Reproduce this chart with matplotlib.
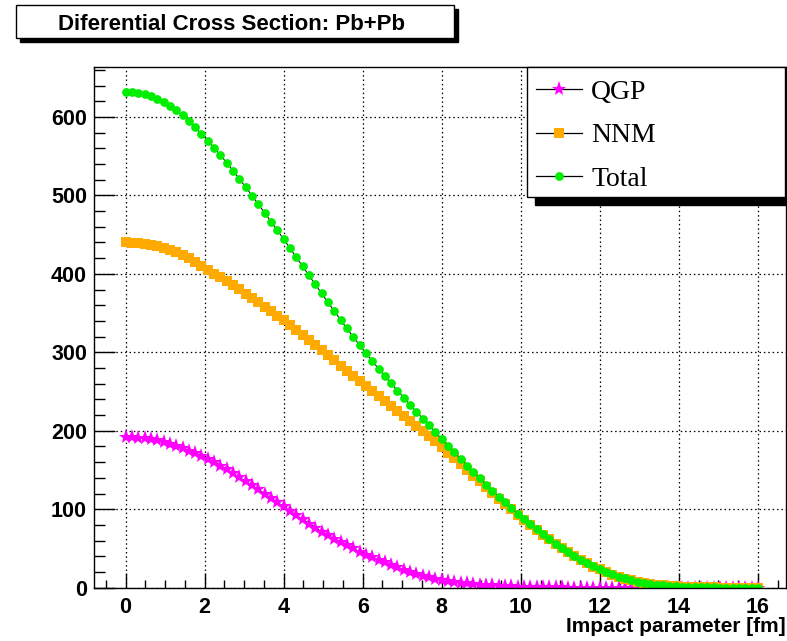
import numpy as np
import matplotlib
matplotlib.use("Agg")
import matplotlib.pyplot as plt
from matplotlib.patches import Rectangle
from matplotlib.lines import Line2D
from matplotlib.ticker import MultipleLocator

# impact parameter grid [fm], 101 points, step 0.16
b = np.round(np.arange(101) * 0.16, 2)

qgp = [192.0, 191.8, 191.2, 190.6, 189.5, 187.8, 185.6, 183.3, 180.7, 177.8,
       174.8, 171.6, 168.2, 164.5, 160.3, 155.7, 150.8, 145.8, 140.8, 135.7,
       130.5, 125.2, 119.8, 114.4, 109.0, 103.5, 98.0, 92.5, 87.1, 81.8,
       76.6, 71.5, 66.8, 62.4, 58.2, 54.0, 50.0, 46.0, 42.3, 38.8,
       35.5, 32.3, 29.1, 26.0, 23.0, 20.2, 17.6, 15.3, 13.3, 11.5,
       10.0, 8.7, 7.6, 6.5, 5.6, 4.8, 4.0, 3.4, 2.9, 2.4,
       2.0, 1.7, 1.4, 1.1, 0.9, 0.7, 0.6, 0.5, 0.4, 0.3,
       0.25, 0.2, 0.15, 0.1, 0.1, 0.1, 0.1, 0.1, 0.1, 0.1,
       0.1, 0.05, 0.05, 0.05, 0.05, 0.05, 0.05, 0.05, 0.05, 0.05,
       0.05, 0.0, 0.0, 0.0, 0.0, 0.0, 0.0, 0.0, 0.0, 0.0, 0.0]

nnm = [440.0, 439.9, 439.4, 438.2, 436.8, 435.2, 433.3, 430.7, 427.6, 424.0,
       419.7, 415.0, 410.2, 405.3, 400.4, 395.5, 390.6, 385.5, 380.2, 374.7,
       369.1, 363.5, 357.9, 352.2, 346.4, 340.6, 334.7, 328.5, 322.4, 316.2,
       309.9, 303.5, 296.8, 290.0, 283.1, 276.4, 269.7, 263.2, 256.7, 250.2,
       243.8, 237.5, 231.4, 225.3, 219.2, 213.0, 206.7, 200.2, 193.5, 186.6,
       179.5, 172.2, 164.8, 157.5, 150.1, 142.7, 135.4, 128.0, 120.7, 113.6,
       106.6, 99.7, 93.0, 86.6, 80.1, 73.7, 67.5, 61.5, 55.8, 50.3,
       45.0, 40.1, 35.4, 31.1, 27.0, 23.2, 19.8, 16.8, 14.1, 11.7,
       9.6, 7.9, 6.4, 5.0, 4.0, 3.1, 2.3, 1.8, 1.3, 0.9,
       0.7, 0.6, 0.4, 0.3, 0.2, 0.2, 0.1, 0.1, 0.1, 0.1, 0.0]

total = [632.0, 631.7, 630.6, 628.8, 626.3, 623.0, 618.9, 614.0, 608.3, 601.8,
         594.5, 586.6, 578.4, 569.8, 560.7, 551.2, 541.4, 531.3, 521.0, 510.4,
         499.6, 488.7, 477.7, 466.6, 455.4, 444.1, 432.7, 421.0, 409.5, 398.0,
         386.5, 375.0, 363.6, 352.4, 341.3, 330.4, 319.7, 309.2, 299.0, 289.0,
         279.3, 269.8, 260.5, 251.3, 242.2, 233.2, 224.3, 215.5, 206.8, 198.1,
         189.5, 180.9, 172.4, 164.0, 155.7, 147.5, 139.4, 131.4, 123.6, 116.0,
         108.6, 101.4, 94.4, 87.7, 81.0, 74.4, 68.1, 62.0, 56.2, 50.6,
         45.3, 40.3, 35.6, 31.2, 27.1, 23.3, 19.9, 16.9, 14.2, 11.8,
         9.7, 7.9, 6.4, 5.1, 4.0, 3.1, 2.4, 1.8, 1.4, 1.0,
         0.8, 0.6, 0.4, 0.3, 0.2, 0.2, 0.1, 0.1, 0.1, 0.1, 0.0]

labels = ["QGP", "NNM", "Total"]
title = "Diferential Cross Section: Pb+Pb"
xlabel = "Impact parameter [fm]"

W, H = 787, 641
styles = [
    dict(marker="*", ms=11, mfc="#ff00ff", mec="#ff00ff", mew=0),
    dict(marker="s", ms=7.4, mfc="#ffaa00", mec="#ffaa00", mew=0),
    dict(marker="o", ms=6.3, mfc="#00ee00", mec="#00ee00", mew=0),
]

fig = plt.figure(figsize=(W / 100, H / 100), dpi=100)
fig.patch.set_facecolor("white")


def fx(px):
    return px / W


def fy(py):
    return 1 - py / H


ax = fig.add_axes([fx(94), fy(587.7), (785.5 - 94) / W, (587.7 - 67) / H])

for series, st in zip([qgp, nnm, total], styles):
    ax.plot(b, series, color="black", lw=0.7, **st)

ax.set_xlim(-0.8, 16.7)
ax.set_ylim(0, 663.6)
ax.xaxis.set_major_locator(MultipleLocator(2))
ax.xaxis.set_minor_locator(MultipleLocator(0.5))
ax.yaxis.set_major_locator(MultipleLocator(100))
ax.yaxis.set_minor_locator(MultipleLocator(20))
ax.grid(True, which="major", color="black", lw=0.9, ls=(0, (1.2, 2.3)))
ax.set_axisbelow(True)

ax.tick_params(axis="x", which="major", direction="in", length=11, width=1,
               pad=7, labelsize=15.5)
ax.tick_params(axis="x", which="minor", direction="in", length=5.8, width=1)
ax.tick_params(axis="y", which="major", direction="in", length=15, width=1,
               pad=5, labelsize=15.5)
ax.tick_params(axis="y", which="minor", direction="in", length=8, width=1)
for lab in ax.get_xticklabels() + ax.get_yticklabels():
    lab.set_fontfamily("Liberation Sans")
    lab.set_fontweight("bold")
for sp in ax.spines.values():
    sp.set_linewidth(1)

ax.set_xlabel(xlabel, fontsize=15, fontweight="bold", family="Liberation Sans",
              loc="right")
ax.xaxis.set_label_coords(1.0, (587.7 - 632) / (587.7 - 67))
ax.xaxis.label.set_va("baseline")

# title box with shadow
fig.add_artist(Rectangle((fx(19.5), fy(41.5)), (454 - 16) / W, (38 - 5) / H,
                         transform=fig.transFigure, facecolor="black",
                         edgecolor="black", zorder=5))
fig.add_artist(Rectangle((fx(16), fy(38)), (454 - 16) / W, (38 - 5) / H,
                         transform=fig.transFigure, facecolor="white",
                         edgecolor="black", lw=1, zorder=6))
fig.text(fx(231), fy(30.5), title, ha="center", va="baseline", fontsize=16,
         fontweight="bold", family="Liberation Sans", zorder=7)

# legend box with shadow
fig.add_artist(Rectangle((fx(535), fy(205)), (785 - 527) / W, (197 - 67) / H,
                         transform=fig.transFigure, facecolor="black",
                         edgecolor="black", zorder=5))
fig.add_artist(Rectangle((fx(527), fy(197)), (785 - 527) / W, (197 - 67) / H,
                         transform=fig.transFigure, facecolor="white",
                         edgecolor="black", lw=1, zorder=6))
rows = [89.3, 132.7, 176.0]
for lab, st, ry in zip(labels, styles, rows):
    fig.add_artist(Line2D([fx(536), fx(582)], [fy(ry), fy(ry)],
                          transform=fig.transFigure, color="black", lw=0.9,
                          zorder=7))
    fig.add_artist(Line2D([fx(559)], [fy(ry)], transform=fig.transFigure,
                          ls="none", zorder=8, **st))
    fig.text(fx(591), fy(ry + 9.5), lab, ha="left", va="baseline", fontsize=20,
             family="Liberation Serif", zorder=8)

fig.savefig("out.png", dpi=100)
